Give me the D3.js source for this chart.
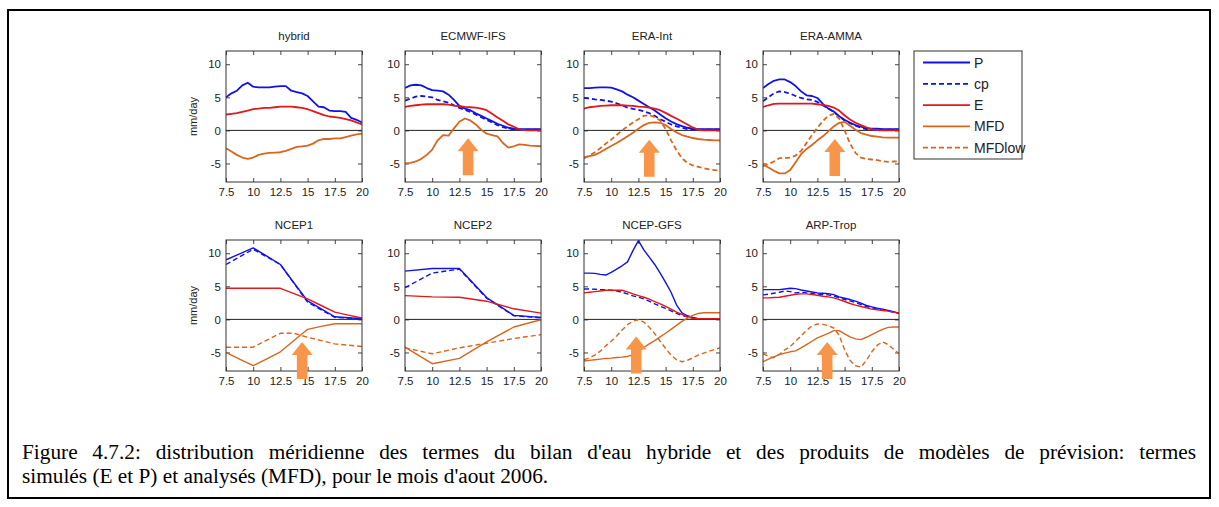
<!DOCTYPE html>
<html><head><meta charset="utf-8">
<script src="https://cdn.jsdelivr.net/npm/d3@7"></script>
<style>
html,body{margin:0;padding:0;background:#fff;}
svg{display:block;}
text{font-family:"Liberation Sans",Arial,sans-serif;}
</style></head><body>
<svg id="fig" width="1219" height="507"></svg>
<script>
// ---------------- DATA ----------------
const lat05 = [7.5,8,8.5,9,9.5,10,10.5,11,11.5,12,12.5,13,13.5,14,14.5,15,15.5,16,16.5,17,17.5,18,18.5,19,19.5,20];
const lat125 = [7.5,8.75,10,11.25,12.5,13.75,15,16.25,17.5,18.75,20];
const lat25 = [7.5,10,12.5,15,17.5,20];
const xTicks = [7.5,10,12.5,15,17.5,20];
const yTicks = [-5,0,5,10];
const panelTitles = ["hybrid","ECMWF-IFS","ERA-Int","ERA-AMMA","NCEP1","NCEP2","NCEP-GFS","ARP-Trop"];
const legendLabels = ["P","cp","E","MFD","MFDlow"];
const yLabel = "mm/day";
const captionLines = [
  "Figure 4.7.2: distribution méridienne des termes du bilan d'eau hybride et des produits de modèles de prévision: termes",
  "simulés (E et P) et analysés (MFD), pour le mois d'aout 2006."
];

// hybrid
const hybridP   = [5.0,5.6,6.0,6.8,7.2,6.6,6.5,6.5,6.5,6.6,6.7,6.7,6.0,5.8,5.6,5.2,4.4,3.6,3.5,3.0,2.9,2.9,2.8,1.9,1.6,1.2];
const hybridE   = [2.4,2.5,2.6,2.8,3.0,3.2,3.3,3.4,3.4,3.5,3.6,3.6,3.6,3.5,3.4,3.2,2.9,2.6,2.3,2.1,2.0,1.9,1.7,1.5,1.2,0.9];
const hybridMFD = [-2.7,-3.2,-3.7,-4.1,-4.3,-4.1,-3.7,-3.5,-3.4,-3.35,-3.3,-3.1,-2.8,-2.5,-2.4,-2.3,-2.0,-1.5,-1.3,-1.3,-1.2,-1.2,-1.0,-0.8,-0.6,-0.5];
// ECMWF-IFS
const ecmwfP   = [6.4,6.8,6.9,6.8,6.4,6.1,6.0,5.9,5.4,4.6,3.7,3.3,3.05,2.6,2.2,1.8,1.4,1.0,0.7,0.4,0.25,0.2,0.2,0.2,0.2,0.2];
const ecmwfCp  = [4.5,4.8,5.1,5.2,5.1,5.0,4.6,4.4,4.2,3.8,3.4,3.1,2.8,2.4,2.0,1.6,1.2,0.8,0.5,0.3,0.15,0.1,0.1,0.1,0.1,0.1];
const ecmwfE   = [3.55,3.7,3.8,3.9,3.95,3.95,3.95,3.95,3.9,3.75,3.65,3.55,3.5,3.45,3.3,3.05,2.5,1.95,1.45,0.9,0.55,0.15,0.05,0,0,0];
const ecmwfMFD = [-5.0,-4.9,-4.7,-4.3,-3.7,-2.9,-1.5,-0.7,-0.8,0.3,1.3,1.8,1.5,0.9,0.1,-0.5,-0.7,-0.9,-1.9,-2.6,-2.4,-2.1,-2.2,-2.3,-2.35,-2.4];
// ERA-Int
const eraiP      = [6.4,6.4,6.45,6.5,6.5,6.45,6.2,5.9,5.4,5.0,4.5,4.0,3.5,3.0,2.4,1.85,1.35,0.95,0.65,0.4,0.25,0.2,0.2,0.2,0.2,0.2];
const eraiCp     = [4.9,4.85,4.7,4.6,4.5,4.35,4.1,3.8,3.45,3.25,3.1,2.9,2.6,2.2,1.7,1.3,0.9,0.6,0.4,0.2,0.1,0.1,0.1,0.1,0.1,0.1];
const eraiE      = [3.3,3.5,3.6,3.7,3.75,3.8,3.8,3.8,3.75,3.7,3.6,3.55,3.45,3.3,3.05,2.65,2.2,1.8,1.35,0.9,0.45,0.1,0,0,0,0];
const eraiMFD    = [-4.1,-3.9,-3.7,-3.3,-2.8,-2.35,-1.9,-1.4,-0.9,-0.35,0.25,0.8,1.15,1.2,1.15,0.8,0.2,-0.3,-0.7,-0.95,-1.15,-1.3,-1.4,-1.45,-1.5,-1.5];
const eraiMFDlow = [-4.2,-3.8,-3.3,-2.7,-2.0,-1.4,-0.7,0.0,0.6,1.2,1.7,2.2,2.3,2.0,1.5,0.2,-1.5,-3.0,-4.2,-4.9,-5.3,-5.5,-5.7,-5.9,-6.0,-6.1];
// ERA-AMMA
const eraaP      = [6.4,7.0,7.5,7.7,7.7,7.3,6.7,5.9,5.3,5.2,4.9,4.0,3.3,2.85,2.15,1.6,1.15,0.8,0.55,0.3,0.25,0.25,0.2,0.2,0.2,0.2];
const eraaCp     = [4.4,5.0,5.6,5.9,5.8,5.55,5.2,4.9,4.7,4.6,4.3,3.8,3.3,2.8,2.1,1.5,1.1,0.7,0.4,0.2,0.1,0.1,0.1,0.1,0.1,0.1];
const eraaE      = [3.55,3.8,4.0,4.05,4.05,4.05,4.05,4.05,4.05,4.05,3.95,3.85,3.7,3.45,3.0,2.25,1.65,1.15,0.8,0.45,0.2,0.05,0,0,0,0];
const eraaMFD    = [-5.15,-5.6,-6.1,-6.5,-6.5,-6.0,-4.8,-3.6,-2.8,-2.2,-1.5,-0.9,-0.15,0.6,1.15,1.3,0.7,0.1,-0.4,-0.65,-0.85,-0.95,-1.05,-1.1,-1.1,-1.1];
const eraaMFDlow = [-5.4,-5.1,-4.7,-4.2,-4.2,-4.1,-3.8,-3.1,-1.9,-0.7,0.4,1.4,2.2,2.5,1.8,0.0,-2.0,-3.4,-4.1,-4.3,-4.4,-4.5,-4.65,-4.75,-4.7,-4.65];
// NCEP1 (1.25 deg)
const ncep1P      = [9.0,9.9,10.8,9.55,8.3,5.5,2.8,1.6,0.4,0.25,0.1];
const ncep1Cp     = [8.3,9.45,10.6,9.45,8.3,5.45,2.6,1.45,0.3,0.2,0.1];
const ncep1E      = [4.7,4.7,4.7,4.7,4.7,3.9,3.1,2.1,1.1,0.65,0.2];
const ncep1MFD    = [-5.0,-6.0,-7.0,-5.95,-4.9,-3.2,-1.5,-1.05,-0.65,-0.65,-0.65];
const ncep1MFDlow = [-4.2,-4.2,-4.2,-3.15,-2.1,-2.1,-2.7,-3.2,-3.7,-3.9,-4.1];
// NCEP2 (2.5 deg)
const ncep2P      = [7.3,7.7,7.7,3.3,0.6,0.3];
const ncep2Cp     = [4.8,7.0,7.6,3.2,0.55,0.25];
const ncep2E      = [3.6,3.4,3.35,2.75,1.6,0.95];
const ncep2MFD    = [-4.2,-6.7,-5.9,-3.4,-1.15,-0.05];
const ncep2MFDlow = [-4.3,-5.2,-4.3,-3.6,-2.9,-2.3];
// NCEP-GFS
const gfsP      = [7.0,7.0,6.95,6.8,6.7,7.1,7.6,8.1,8.7,10.4,11.9,10.5,9.4,8.3,7.0,5.6,4.1,2.2,1.0,0.55,0.3,0.1,0.1,0.1,0.1,0.1];
const gfsCp     = [4.6,4.6,4.55,4.5,4.5,4.4,4.3,4.1,3.85,3.55,3.35,3.1,2.75,2.35,2.0,1.65,1.3,0.9,0.6,0.4,0.2,0.05,0.05,0.05,0.05,0.05];
const gfsE      = [4.0,4.1,4.2,4.3,4.4,4.4,4.4,4.4,4.15,3.85,3.6,3.35,3.05,2.7,2.35,1.95,1.55,1.1,0.75,0.35,0.15,0.1,0.1,0.1,0.1,0.1];
const gfsMFD    = [-6.3,-6.2,-6.1,-6.0,-5.9,-5.85,-5.75,-5.7,-5.6,-5.35,-4.85,-4.25,-3.7,-3.2,-2.65,-2.1,-1.5,-0.9,-0.3,0.2,0.6,0.9,1.0,1.0,1.0,1.0];
const gfsMFDlow = [-6.1,-5.8,-5.4,-4.8,-4.0,-3.3,-2.5,-1.6,-0.8,-0.25,-0.05,-0.4,-1.2,-2.15,-3.3,-4.4,-5.4,-6.1,-6.4,-6.2,-5.8,-5.4,-5.1,-4.8,-4.55,-4.3];
// ARP-Trop
const arpP      = [4.5,4.5,4.5,4.5,4.6,4.7,4.65,4.45,4.3,4.15,4.0,3.95,3.9,3.75,3.4,3.2,3.0,2.75,2.45,2.1,1.9,1.7,1.55,1.35,1.15,0.95];
const arpCp     = [3.7,3.8,3.95,4.1,4.3,4.2,4.0,4.1,4.0,3.9,3.8,3.75,3.7,3.55,3.25,3.0,2.8,2.55,2.25,1.95,1.75,1.55,1.4,1.25,1.1,0.9];
const arpE      = [3.25,3.25,3.3,3.35,3.5,3.65,3.8,3.85,3.85,3.75,3.65,3.5,3.4,3.25,3.0,2.7,2.4,2.15,1.95,1.75,1.55,1.45,1.35,1.25,1.1,0.95];
const arpMFD    = [-6.4,-6.0,-5.65,-5.3,-5.1,-4.9,-4.75,-4.3,-3.8,-3.3,-2.8,-2.45,-2.1,-1.7,-1.7,-2.2,-2.65,-2.95,-3.05,-2.7,-2.3,-1.9,-1.5,-1.2,-1.15,-1.15];
const arpMFDlow = [-5.2,-5.6,-5.8,-5.3,-4.6,-4.1,-3.3,-2.5,-1.65,-1.0,-0.7,-0.75,-0.95,-1.3,-2.4,-4.6,-6.2,-7.0,-7.2,-6.2,-4.9,-3.9,-3.4,-3.8,-4.5,-5.2];

// arrows: latitude of arrow and value of its tip (mm/day)
const arrowLat = [null,13.3,13.5,14.1,14.5,null,12.3,13.4];
const arrowTip = [null,-1.2,-1.4,-1.3,-3.4,null,-2.6,-3.4];

// ---------------- BUILD ----------------
const panels = [
  {lat:lat05, P:hybridP, cp:null, E:hybridE, MFD:hybridMFD, MFDlow:null},
  {lat:lat05, P:ecmwfP, cp:ecmwfCp, E:ecmwfE, MFD:ecmwfMFD, MFDlow:null},
  {lat:lat05, P:eraiP, cp:eraiCp, E:eraiE, MFD:eraiMFD, MFDlow:eraiMFDlow},
  {lat:lat05, P:eraaP, cp:eraaCp, E:eraaE, MFD:eraaMFD, MFDlow:eraaMFDlow},
  {lat:lat125, P:ncep1P, cp:ncep1Cp, E:ncep1E, MFD:ncep1MFD, MFDlow:ncep1MFDlow},
  {lat:lat25, P:ncep2P, cp:ncep2Cp, E:ncep2E, MFD:ncep2MFD, MFDlow:ncep2MFDlow},
  {lat:lat05, P:gfsP, cp:gfsCp, E:gfsE, MFD:gfsMFD, MFDlow:gfsMFDlow},
  {lat:lat05, P:arpP, cp:arpCp, E:arpE, MFD:arpMFD, MFDlow:arpMFDlow}
].map((p,i)=>Object.assign(p,{title:panelTitles[i], aLat:arrowLat[i], aTip:arrowTip[i]}));

const BLUE="#1212e6", RED="#e0191b", ORANGE="#d9661c", ARROW="#f7964a";
const styles = {
  P:{color:BLUE, dash:null},
  cp:{color:BLUE, dash:"5,3"},
  E:{color:RED, dash:null},
  MFD:{color:ORANGE, dash:null},
  MFDlow:{color:ORANGE, dash:"5,3"}
};
const keys = ["P","cp","E","MFD","MFDlow"];

const svg = d3.select("#fig");
svg.append("rect").attr("x",0).attr("y",0).attr("width",1219).attr("height",507).attr("fill","#fff");
svg.append("rect").attr("x",8).attr("y",10).attr("width",1202).attr("height",488)
  .attr("fill","none").attr("stroke","#000").attr("stroke-width",2);

const colX = [226,405,584,763];
const rowY = [51,240];
const W = 136, H = 131;
const xDom = [7.5,20], yDom = [-7.8,12];

panels.forEach((p,i)=>{
  const row = Math.floor(i/4);
  const x0 = colX[i%4], y0 = rowY[row];
  const g = svg.append("g").attr("transform",`translate(${x0},${y0})`);
  const x = d3.scaleLinear().domain(xDom).range([0,W]);
  const y = d3.scaleLinear().domain(yDom).range([H,0]);
  const clipId = "clip"+i;
  g.append("clipPath").attr("id",clipId).append("rect").attr("width",W).attr("height",H);

  const fmt = d=>String(d);
  const ax = [
    [d3.axisBottom(x).tickValues(xTicks).tickFormat(fmt).tickSizeInner(-4).tickSizeOuter(0).tickPadding(6), `translate(0,${H})`],
    [d3.axisTop(x).tickValues(xTicks).tickFormat("").tickSizeInner(-4).tickSizeOuter(0), `translate(0,0)`],
    [d3.axisLeft(y).tickValues(yTicks).tickFormat(fmt).tickSizeInner(-4).tickSizeOuter(0).tickPadding(5), `translate(0,0)`],
    [d3.axisRight(y).tickValues(yTicks).tickFormat("").tickSizeInner(-4).tickSizeOuter(0), `translate(${W},0)`]
  ];
  ax.forEach(([a,t])=>{
    const ag = g.append("g").attr("transform",t).call(a);
    ag.select(".domain").remove();
    ag.selectAll("line").attr("stroke","#444");
    ag.selectAll("text").attr("fill","#222").style("font-size","11.5px").style("font-family","'Liberation Sans',Arial,sans-serif");
  });

  g.append("line").attr("x1",0).attr("x2",W).attr("y1",y(0)).attr("y2",y(0))
    .attr("stroke","#222").attr("stroke-width",1);

  const lw = row===0 ? 1.8 : 1.4;
  const line = d3.line().x(d=>x(d[0])).y(d=>y(d[1]));
  const dg = g.append("g").attr("clip-path",`url(#${clipId})`);
  keys.forEach(k=>{
    if(!p[k]) return;
    const pts = p.lat.map((l,j)=>[l,p[k][j]]);
    dg.append("path").attr("d",line(pts)).attr("fill","none")
      .attr("stroke",styles[k].color).attr("stroke-width",lw)
      .attr("stroke-dasharray",styles[k].dash).attr("stroke-linejoin","round");
  });

  g.append("rect").attr("width",W).attr("height",H).attr("fill","none").attr("stroke","#333").attr("stroke-width",1);

  g.append("text").attr("x",W/2).attr("y",-11).attr("text-anchor","middle")
    .style("font-size","11.5px").attr("fill","#222").text(p.title);

  if(i%4===0){
    g.append("text").attr("transform",`translate(-29,${H/2}) rotate(-90)`).attr("text-anchor","middle")
      .style("font-size","11px").attr("fill","#222").text(yLabel);
  }

  if(p.aLat!=null){
    const ax0 = x(p.aLat), tip = y(p.aTip);
    const len = 37, headH = 13, headW = 10.5, shaftW = 5.3;
    const pts = [
      [ax0, tip],[ax0+headW, tip+headH],[ax0+shaftW, tip+headH],[ax0+shaftW, tip+len],
      [ax0-shaftW, tip+len],[ax0-shaftW, tip+headH],[ax0-headW, tip+headH]
    ];
    g.append("polygon").attr("points",pts.map(d=>d.join(",")).join(" ")).attr("fill",ARROW);
  }
});

// legend
const lg = svg.append("g").attr("transform","translate(914,51)");
lg.append("rect").attr("width",108).attr("height",108).attr("fill","#fff").attr("stroke","#333");
legendLabels.forEach((lab,j)=>{
  const st = styles[keys[j]];
  const yy = 11.5 + j*21.3;
  lg.append("line").attr("x1",9).attr("x2",56).attr("y1",yy).attr("y2",yy)
    .attr("stroke",st.color).attr("stroke-width",1.8).attr("stroke-dasharray",st.dash);
  lg.append("text").attr("x",60).attr("y",yy+5).style("font-size","14px").attr("fill","#222").text(lab);
});

// caption (first line justified by spreading words)
const capFont = "'Liberation Serif','Times New Roman',serif";
const capSize = "21.3px";
const capLeft = 22, capRight = 1196;
function capLine(str, yPos, justify){
  const words = str.split(" ");
  const t = svg.append("text").attr("y",yPos).style("font-family",capFont).style("font-size",capSize).attr("fill","#000");
  if(!justify){ t.attr("x",capLeft).text(str); return; }
  const tmp = svg.append("text").style("font-family",capFont).style("font-size",capSize);
  const widths = words.map(w=>{ tmp.text(w); return tmp.node().getComputedTextLength(); });
  tmp.remove();
  const total = d3.sum(widths);
  const gap = (capRight-capLeft-total)/(words.length-1);
  let cx = capLeft;
  words.forEach((w,k)=>{ t.append("tspan").attr("x",cx).text(w); cx += widths[k]+gap; });
}
capLine(captionLines[0], 459, true);
capLine(captionLines[1], 483, false);
</script>
</body></html>
